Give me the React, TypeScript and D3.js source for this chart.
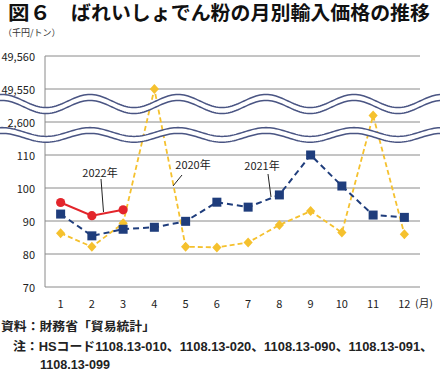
import React from "react";
import * as d3 from "d3";

const months = ["1", "2", "3", "4", "5", "6", "7", "8", "9", "10", "11", "12"];
const s2022 = [95.6, 91.6, 93.4];
const s2021 = [92.1, 85.5, 87.5, 88.1, 89.9, 95.7, 94.2, 97.9, 110.6, 100.6, 91.8, 91.1];
const s2020 = [86.3, 82.2, 89.3, 49550, 82.2, 82.0, 83.5, 88.8, 93.0, 86.5, 11800, 86.0];
const yTicks = [70, 80, 90, 100, 110, 2600, 49550, 49560];
const yTickLabels = ["70", "80", "90", "100", "110", "2,600", "49,550", "49,560"];

const W = 440;
const H = 373;
const FONT = "'Noto Sans CJK JP', 'Noto Sans', sans-serif";
const FOOT_FONT = "'Liberation Sans', 'Noto Sans CJK JP', sans-serif";

const RED = "#e3252b";
const NAVY = "#1f3d7c";
const GOLD = "#f5c12e";
const WAVE = "#4a5583";

export default function App() {
  const x = d3.scaleBand<string>().domain(months).range([45, 420]).padding(0);
  const cx = (i: number) => (x(months[i]) as number) + x.bandwidth() / 2;
  const y = d3
    .scaleLinear()
    .domain(yTicks)
    .range([287, 254, 221, 188, 155, 122, 89, 56]);

  const line = d3
    .line<number>()
    .x((_, i) => cx(i))
    .y((d) => y(d));

  const wave = (c: number, A: number, off: number) => {
    const up: [number, number][] = [];
    for (let px = -2; px <= W + 2; px += 2) {
      up.push([px, c + A * Math.cos((2 * Math.PI * (px - 46)) / 88)]);
    }
    const lo = up.map(([a, b]) => [a, b + off] as [number, number]);
    const l = d3.line();
    const area = (l(up) as string) + "L" + (l(lo.slice().reverse()) as string).slice(1) + "Z";
    return (
      <g>
        <path d={area} fill="#fff" stroke="none" />
        <path d={l(up) as string} fill="none" stroke={WAVE} strokeWidth={1.5} />
        <path d={l(lo) as string} fill="none" stroke={WAVE} strokeWidth={1.5} />
      </g>
    );
  };

  const diamond = (px: number, py: number) =>
    `M${px},${py - 5}L${px + 4.6},${py}L${px},${py + 5}L${px - 4.6},${py}Z`;

  return (
    <svg
      width={W}
      height={H}
      style={{ position: "absolute", left: 0, top: 0, background: "#fff" }}
      fontFamily={FONT}
    >
      <rect x={0} y={0} width={W} height={H} fill="#fff" />
      {/* title */}
      <g fontSize={19.5} fontWeight={700} fill="#111">
        <text x={8} y={11} dominantBaseline="central" textLength={43} lengthAdjust="spacingAndGlyphs">
          図６
        </text>
        <text x={71} y={11} dominantBaseline="central" textLength={359} lengthAdjust="spacingAndGlyphs">
          ばれいしょでん粉の月別輸入価格の推移
        </text>
      </g>
      <text x={3} y={32} fontSize={9} fill="#333" dominantBaseline="central">
        （千円/トン）
      </text>

      {/* gridlines */}
      {yTicks.map((t, i) => (
        <g key={t}>
          <line x1={45} x2={420} y1={y(t)} y2={y(t)} stroke="#8a8a8a" strokeWidth={1} />
          <text
            x={35}
            y={y(t)}
            fontSize={11}
            textAnchor="end"
            dominantBaseline="central"
            fill="#222"
          >
            {yTickLabels[i]}
          </text>
        </g>
      ))}
      <line x1={45} x2={45} y1={56} y2={287} stroke="#8a8a8a" strokeWidth={1} />

      {/* x labels */}
      {months.map((m, i) => (
        <text key={m} x={cx(i)} y={303} fontSize={11} textAnchor="middle" dominantBaseline="central" fill="#222">
          {m}
        </text>
      ))}
      <text
        x={415}
        y={302}
        fontSize={10}
        dominantBaseline="central"
        fill="#222"
        textLength={18}
        lengthAdjust="spacingAndGlyphs"
      >
        (月)
      </text>

      {/* series 2020 */}
      <path d={line(s2020) as string} fill="none" stroke={GOLD} strokeWidth={1.8} strokeDasharray="5,3" />
      {/* series 2021 */}
      <path d={line(s2021) as string} fill="none" stroke={NAVY} strokeWidth={2} strokeDasharray="6,4" />

      {/* breaks */}
      {wave(101, 6.5, 6)}
      {wave(132, 4.4, 5.8)}

      {s2020.map((v, i) => (
        <path key={"d" + i} d={diamond(cx(i), y(v))} fill={GOLD} />
      ))}
      {s2021.map((v, i) => (
        <rect key={"s" + i} x={cx(i) - 4.5} y={y(v) - 4.5} width={9} height={9} fill={NAVY} />
      ))}
      {/* series 2022 */}
      <path d={line(s2022) as string} fill="none" stroke={RED} strokeWidth={2} />
      {s2022.map((v, i) => (
        <circle key={"c" + i} cx={cx(i)} cy={y(v)} r={4.6} fill={RED} />
      ))}

      {/* annotations */}
      <text x={100} y={172} fontSize={11} textAnchor="middle" dominantBaseline="central" fill="#222">
        2022年
      </text>
      <line x1={101} y1={179} x2={103.5} y2={212} stroke="#222" strokeWidth={1} />
      <text x={193} y={164} fontSize={11} textAnchor="middle" dominantBaseline="central" fill="#222">
        2020年
      </text>
      <line x1={182} y1={175} x2={173} y2={186} stroke="#222" strokeWidth={1} />
      <text x={262} y={165} fontSize={11} textAnchor="middle" dominantBaseline="central" fill="#222">
        2021年
      </text>
      <line x1={268} y1={174} x2={271} y2={197} stroke="#222" strokeWidth={1} />

      {/* footer */}
      <g fontFamily={FOOT_FONT} fontWeight={700} fill="#222" fontSize={12.5}>
        <text x={1} y={327} dominantBaseline="central" textLength={154} lengthAdjust="spacingAndGlyphs">
          資料：財務省「貿易統計」
        </text>
        <text x={13} y={347} dominantBaseline="central" textLength={420} lengthAdjust="spacingAndGlyphs">
          注：HSコード1108.13-010、1108.13-020、1108.13-090、1108.13-091、
        </text>
        <text x={40} y={365} dominantBaseline="central" textLength={70} lengthAdjust="spacingAndGlyphs">
          1108.13-099
        </text>
      </g>
    </svg>
  );
}
